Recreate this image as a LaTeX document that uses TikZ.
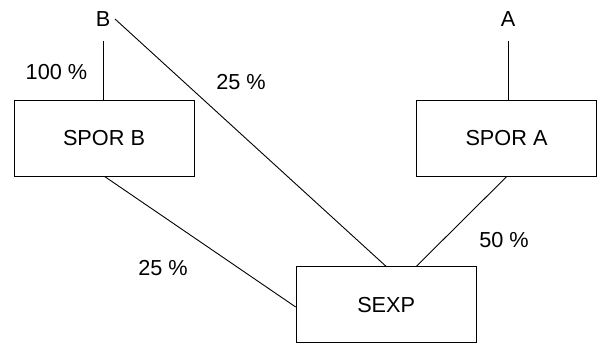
\documentclass[tikz,border=0pt]{standalone}
\usepackage{fontspec}
\setmainfont{Liberation Sans}
\begin{document}
\begin{tikzpicture}[x=1pt,y=-1pt,
  every node/.style={font=\fontsize{21.7}{26}\selectfont, inner sep=0pt},
  unit/.style={draw, line width=1pt, minimum width=180pt, minimum height=75.5pt},
  link/.style={line width=0.9pt},
  share/.style={}]
  \useasboundingbox (0,0) rectangle (597,344);

  % top labels and the ends of their lines
  \node (lb) at (103,19) {B};
  \node (la) at (508,19) {A};
  \coordinate (bdown) at (103.5,41);
  \coordinate (bdiag) at (115,19);
  \coordinate (adown) at (508,41);

  % units
  \node[unit] (sporb) at (104,138.5) {SPOR B};
  \node[unit] (spora) at (506.5,138.5) {SPOR A};
  \node[unit, minimum height=76pt] (sexp) at (386.2,305) {SEXP};

  % connectors
  \draw[link] (bdown) -- (bdown |- sporb.north);
  \draw[link] (adown) -- (adown |- spora.north);
  \draw[link] (bdiag) -- (sexp.north);
  \draw[link] ([xshift=1pt]sporb.south) -- ([yshift=-2pt]sexp.west);
  \draw[link] (spora.south) -- ([xshift=30pt]sexp.north);

  % shares
  \node[share] (p100) at (56.5,72) {100 \%};
  \node[share] (p25a) at (241,82) {25 \%};
  \node[share] (p25b) at (163,268) {25 \%};
  \node[share] (p50) at (504,240) {50 \%};
\end{tikzpicture}
\end{document}
